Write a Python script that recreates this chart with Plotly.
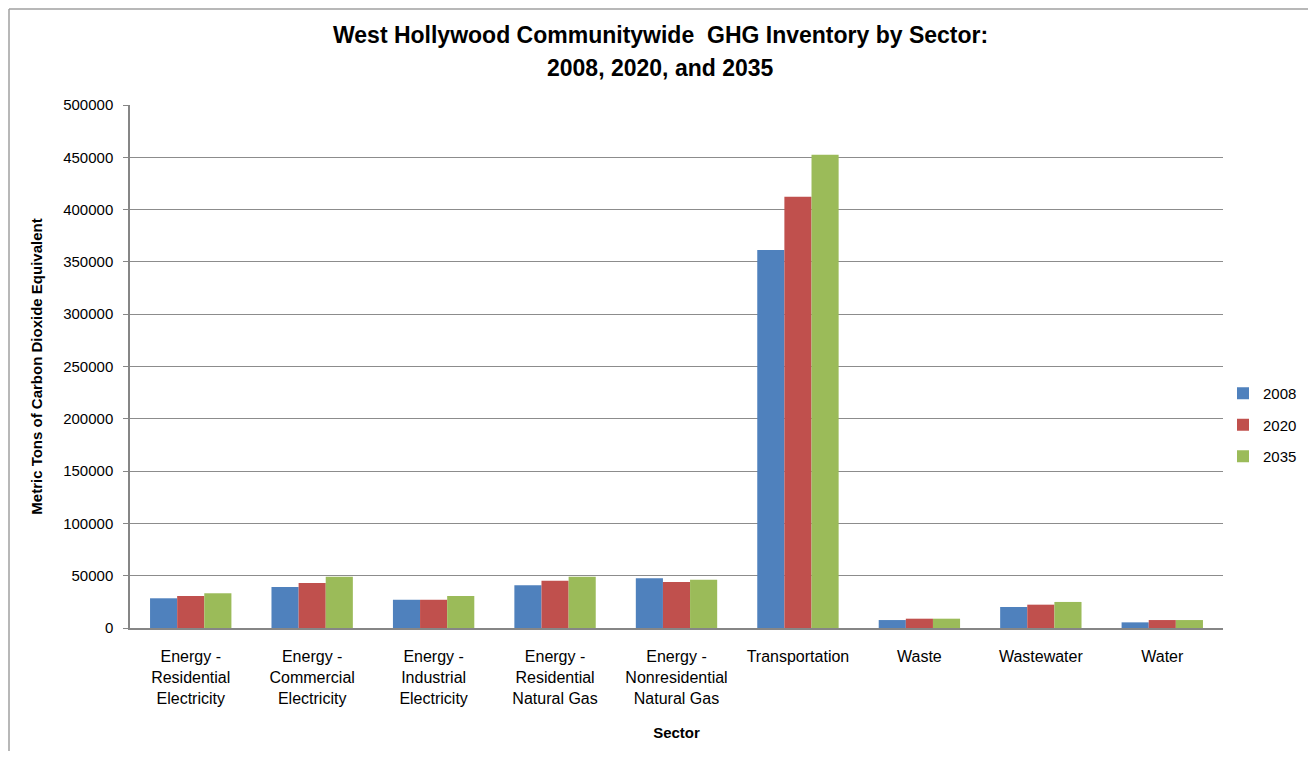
import plotly.graph_objects as go

categories = [
    "Energy -<br>Residential<br>Electricity",
    "Energy -<br>Commercial<br>Electricity",
    "Energy -<br>Industrial<br>Electricity",
    "Energy -<br>Residential<br>Natural Gas",
    "Energy -<br>Nonresidential<br>Natural Gas",
    "Transportation",
    "Waste",
    "Wastewater",
    "Water",
]
v2008 = [28400, 39200, 27000, 40800, 47500, 361400, 7600, 20100, 5400]
v2020 = [30600, 43000, 27000, 45200, 44000, 412400, 8900, 22300, 7600]
v2035 = [33200, 49000, 30600, 49000, 46200, 452500, 8900, 24900, 7600]
series_names = ["2008", "2020", "2035"]
colors = ["#4F81BD", "#C0504D", "#9BBB59"]
title_lines = ["West Hollywood Communitywide  GHG Inventory by Sector:",
               "2008, 2020, and 2035"]

font_family = "Liberation Sans, Arial, sans-serif"

fig = go.Figure()
for name, vals, c in zip(series_names, [v2008, v2020, v2035], colors):
    fig.add_trace(go.Bar(x=categories, y=vals, name=name, marker_color=c,
                         marker_line_width=0, legendgroup=name))

# page body has an 8px margin, so figure origin is at (8, 8)
OFF = 8
L, T = 130 - OFF, 105 - OFF
pw, ph = 1093, 523
W, H = 1300, 743
R = W - L - pw
B = H - T - ph


def px_to_paper_y(abs_y):
    return (628 - abs_y) / ph


def px_to_paper_x(abs_x):
    return (abs_x - 130) / pw


fig.update_layout(
    width=W, height=H,
    margin=dict(l=L, r=R, t=T, b=B, autoexpand=False),
    paper_bgcolor="white", plot_bgcolor="white",
    barmode="group", bargap=0.33, bargroupgap=0,
    font=dict(family=font_family, size=14, color="#000"),
    legend=dict(x=1.0, y=px_to_paper_y(425), xanchor="left", yanchor="middle",
                font=dict(size=15), tracegroupgap=9, itemwidth=30,
                traceorder="grouped"),
    xaxis=dict(showline=True, linecolor="#868686", linewidth=1.5,
               ticks="", ticklabelstandoff=13,
               tickfont=dict(size=16),
               title=dict(text="<b>Sector</b>", font=dict(size=15), standoff=22)),
    yaxis=dict(range=[0, 500000], dtick=50000, showgrid=True, gridcolor="#8c8c8c",
               gridwidth=1, showline=True, linecolor="#868686", linewidth=1.5,
               ticks="outside", ticklen=5, tickcolor="#868686",
               ticklabelstandoff=7,
               tickformat="d", tickfont=dict(size=15),
               title=dict(text="<b>Metric Tons of Carbon Dioxide Equivalent</b>",
                          font=dict(size=15), standoff=17),
               zeroline=False),
)

# title as two centred lines
for line, yc in zip(title_lines, [35, 68]):
    fig.add_annotation(text=f"<b>{line}</b>", xref="paper", yref="paper",
                       x=px_to_paper_x(660), y=px_to_paper_y(yc),
                       xanchor="center", yanchor="middle", showarrow=False,
                       font=dict(size=23, family=font_family, color="#000"))

# outer chart border (left and top edges visible)
bx = px_to_paper_x(OFF + 1)
by = px_to_paper_y(OFF + 1)
fig.add_shape(type="line", xref="paper", yref="paper",
              x0=bx, x1=bx, y0=by, y1=-(B + 10) / ph,
              line=dict(color="#a0a0a0", width=1.5))
fig.add_shape(type="line", xref="paper", yref="paper",
              x0=bx, x1=(W + 10 - L) / pw, y0=by, y1=by,
              line=dict(color="#a0a0a0", width=1.5))

fig.write_html("out.html")
